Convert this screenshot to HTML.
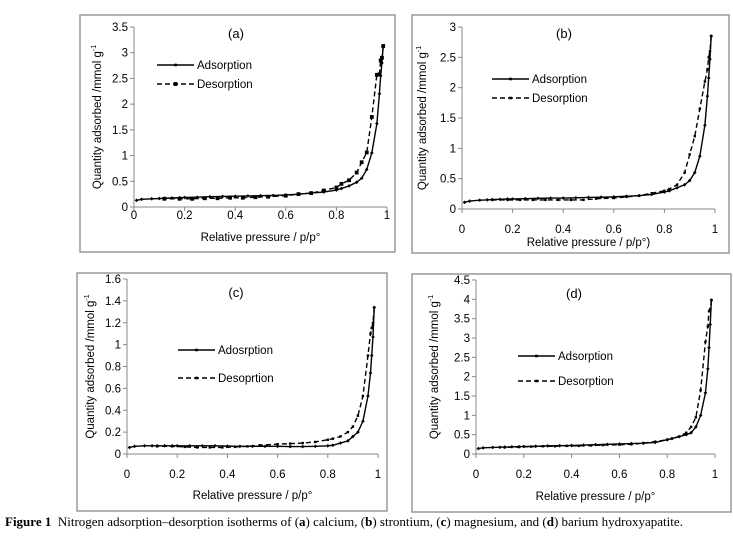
<!DOCTYPE html>
<html><head><meta charset="utf-8"><style>
body{margin:0;background:#fff;width:733px;height:540px;overflow:hidden;font-family:"Liberation Sans",sans-serif}
svg text{font-family:"Liberation Sans",sans-serif;fill:#000}
.cap{position:absolute;left:5px;top:514px;font-family:"Liberation Serif",serif;font-size:13px;white-space:nowrap}
</style></head><body>
<svg id="fig" width="733" height="540" style="position:absolute;left:0;top:0"></svg>
<div class="cap"><b>Figure 1</b>&nbsp; Nitrogen adsorption–desorption isotherms of (<b>a</b>) calcium, (<b>b</b>) strontium, (<b>c</b>) magnesium, and (<b>d</b>) barium hydroxyapatite.</div>
<script>
// ---- data ----
const adsX = [0.01,0.03,0.07,0.10,0.12,0.15,0.18,0.20,0.25,0.30,0.35,0.40,0.45,0.50,0.55,0.60,0.65,0.70,0.75,0.80,0.82,0.85,0.88,0.90,0.92,0.94,0.96,0.97,0.975,0.98,0.985];
const desX = [0.985,0.98,0.975,0.97,0.96,0.94,0.92,0.90,0.88,0.85,0.82,0.80,0.75,0.70,0.65,0.60,0.53,0.48,0.43,0.38,0.33,0.28,0.23,0.18,0.12];
const adsA = [0.13,0.15,0.16,0.165,0.17,0.175,0.18,0.185,0.19,0.2,0.205,0.21,0.215,0.22,0.225,0.235,0.25,0.27,0.29,0.33,0.36,0.41,0.48,0.56,0.73,1.05,1.62,2.2,2.55,2.8,3.13];
const desA = [3.13,2.9,2.85,2.58,2.57,1.75,1.06,0.87,0.67,0.52,0.45,0.38,0.32,0.27,0.25,0.22,0.2,0.19,0.18,0.18,0.17,0.17,0.16,0.16,0.16];
const adsB = [0.11,0.13,0.145,0.15,0.155,0.16,0.165,0.165,0.17,0.175,0.18,0.18,0.185,0.19,0.195,0.2,0.21,0.22,0.24,0.28,0.3,0.35,0.4,0.47,0.6,0.87,1.38,1.86,2.16,2.47,2.85];
const desB = [2.85,2.6,2.5,2.3,2.1,1.65,1.2,0.9,0.6,0.4,0.33,0.3,0.26,0.22,0.2,0.18,0.17,0.15,0.15,0.15,0.15,0.15,0.15,0.15,0.15];
const adsC = [0.06,0.07,0.075,0.075,0.075,0.075,0.075,0.075,0.075,0.075,0.075,0.072,0.07,0.07,0.07,0.07,0.068,0.068,0.07,0.075,0.08,0.1,0.12,0.16,0.2,0.3,0.53,0.74,0.9,1.07,1.34];
const desC = [1.34,1.2,1.15,1.1,0.9,0.53,0.35,0.25,0.2,0.16,0.14,0.13,0.11,0.1,0.095,0.09,0.08,0.07,0.065,0.06,0.06,0.06,0.065,0.07,0.07];
const adsD = [0.14,0.16,0.17,0.175,0.18,0.185,0.19,0.195,0.2,0.21,0.215,0.22,0.23,0.24,0.25,0.26,0.27,0.28,0.3,0.37,0.4,0.45,0.5,0.55,0.7,1.0,1.58,2.2,2.75,3.35,3.98];
const desD = [3.98,3.75,3.7,3.3,2.9,1.65,0.95,0.7,0.55,0.45,0.4,0.37,0.32,0.28,0.25,0.24,0.23,0.22,0.21,0.21,0.2,0.2,0.19,0.18,0.17];
const xTicks = ["0","0.2","0.4","0.6","0.8","1"];
const yTicksA = ["0","0.5","1","1.5","2","2.5","3","3.5"];
const yTicksB = ["0","0.5","1","1.5","2","2.5","3"];
const yTicksC = ["0","0.2","0.4","0.6","0.8","1","1.2","1.4","1.6"];
const yTicksD = ["0","0.5","1","1.5","2","2.5","3","3.5","4","4.5"];
const panelLabels = ["(a)","(b)","(c)","(d)"];

const svg = document.getElementById('fig');
const NS = 'http://www.w3.org/2000/svg';
function mk(tag, attrs, parent){const e=document.createElementNS(NS,tag);for(const k in attrs)e.setAttribute(k,attrs[k]);(parent||svg).appendChild(e);return e;}

const panels = [
 {id:'a',frame:[80,15,315,237],x0:134,x1:387,y0:207,yTop:27,ticks:yTicksA,ads:adsA,des:desA,title:[236,38],ytx:97,leg:[157,65,84],names:["Adsorption","Desorption"],sq:true,xt:[215,241],xtitle:"Relative pressure / p/p°"},
 {id:'b',frame:[412,15,317,238],x0:462,x1:715,y0:209,yTop:27,ticks:yTicksB,ads:adsB,des:desB,title:[564,38],ytx:422,leg:[492,79,98],names:["Adsorption","Desorption"],sq:false,xt:[229,246],xtitle:"Relative pressure / p/p°)"},
 {id:'c',frame:[77,273,310,238],x0:127,x1:378,y0:454,yTop:279,ticks:yTicksC,ads:adsC,des:desC,title:[236,297],ytx:90,leg:[178,350,378],names:["Adosrption","Desoprtion"],sq:false,xt:[474,499],xtitle:"Relative pressure / p/p°"},
 {id:'d',frame:[412,274,319,238],x0:476,x1:715,y0:454,yTop:280,ticks:yTicksD,ads:adsD,des:desD,title:[574,298],ytx:434,leg:[518,356,381],names:["Adsorption","Desorption"],sq:false,xt:[474,500],xtitle:"Relative pressure / p/p°"}
];

panels.forEach((p,pi)=>{
  const g = mk('g',{});
  
  
  const fr = mk('rect',{x:p.frame[0],y:p.frame[1],width:p.frame[2],height:p.frame[3],fill:'none',stroke:'#999','stroke-width':1.5},g);
  
  
  const yMax = parseFloat(p.ticks[p.ticks.length-1]);
  const X = v => p.x0 + v*(p.x1-p.x0);
  const Y = v => p.y0 - v/yMax*(p.y0-p.yTop);
  const ya = mk('line',{x1:p.x0,y1:p.yTop,x2:p.x0,y2:p.y0,stroke:'#888'},g);
  
  
  const xa = mk('line',{x1:p.x0,y1:p.y0,x2:p.x1,y2:p.y0,stroke:'#888'},g);
  
  
  p.ticks.forEach(t=>{
    const v=parseFloat(t);
    mk('line',{x1:p.x0-4,y1:Y(v),x2:p.x0,y2:Y(v),stroke:'#888'},g);
    const tx=mk('text',{x:p.x0-6,y:Y(v)+4,'text-anchor':'end','font-size':11.5},g);
    tx.textContent=t;
    
    
  });
  xTicks.forEach(t=>{
    const v=parseFloat(t);
    mk('line',{x1:X(v),y1:p.y0,x2:X(v),y2:p.y0+4,stroke:'#888'},g);
    const tx=mk('text',{x:X(v),y:p.xt[0]+4,'text-anchor':'middle','font-size':11.5},g);
    tx.textContent=t;
    
    
  });
  const xt=mk('text',{x:(p.x0+p.x1)/2,y:p.xt[1],'text-anchor':'middle','font-size':11.5},g);
  xt.textContent=p.xtitle;
  
  
  const ym=(p.y0+p.yTop)/2;
  const yt=mk('text',{x:p.ytx,y:ym,'text-anchor':'middle','font-size':11.5,transform:`rotate(-90 ${p.ytx} ${ym})`,dy:4},g);
  yt.innerHTML='Quantity adsorbed /mmol g<tspan font-size="7" dy="-5">-1</tspan>';
  
  
  const ti=mk('text',{x:p.title[0],y:p.title[1],'text-anchor':'middle','font-size':13},g);
  ti.textContent=panelLabels[pi];
  
  
  const ad = mk('polyline',{points:adsX.map((x,i)=>X(x)+','+Y(p.ads[i])).join(' '),fill:'none',stroke:'#000','stroke-width':1.4},g);
  
  
  const de = mk('polyline',{points:desX.map((x,i)=>X(x)+','+Y(p.des[i])).join(' '),fill:'none',stroke:'#000','stroke-width':1.4,'stroke-dasharray':'5,3'},g);
  
  
  adsX.forEach((x,i)=>{
    const m=mk('rect',{x:X(x)-1.3,y:Y(p.ads[i])-1.3,width:2.6,height:2.6,fill:'#000',transform:`rotate(45 ${X(x)} ${Y(p.ads[i])})`},g);
    
    
  });
  desX.forEach((x,i)=>{
    const s=p.sq?3.8:2.4;
    const m=mk('rect',{x:X(x)-s/2,y:Y(p.des[i])-s/2,width:s,height:s,fill:'#000'},g);
    
    
  });
  const lx=p.leg[0];
  const l1=mk('g',{},g);
  
  
  mk('line',{x1:lx,y1:p.leg[1],x2:lx+37,y2:p.leg[1],stroke:'#000','stroke-width':1.4},l1);
  mk('rect',{x:lx+17.2,y:p.leg[1]-1.3,width:2.6,height:2.6,fill:'#000'},l1);
  const t1=mk('text',{x:lx+40,y:p.leg[1]+4,'font-size':11.5},l1);t1.textContent=p.names[0];
  const l2=mk('g',{},g);
  
  
  mk('line',{x1:lx,y1:p.leg[2],x2:lx+37,y2:p.leg[2],stroke:'#000','stroke-width':1.4,'stroke-dasharray':'5,3'},l2);
  const s=p.sq?3.8:2.6;
  mk('rect',{x:lx+18.5-s/2,y:p.leg[2]-s/2,width:s,height:s,fill:'#000'},l2);
  const t2=mk('text',{x:lx+40,y:p.leg[2]+4,'font-size':11.5},l2);t2.textContent=p.names[1];
});
</script>
</body></html>
